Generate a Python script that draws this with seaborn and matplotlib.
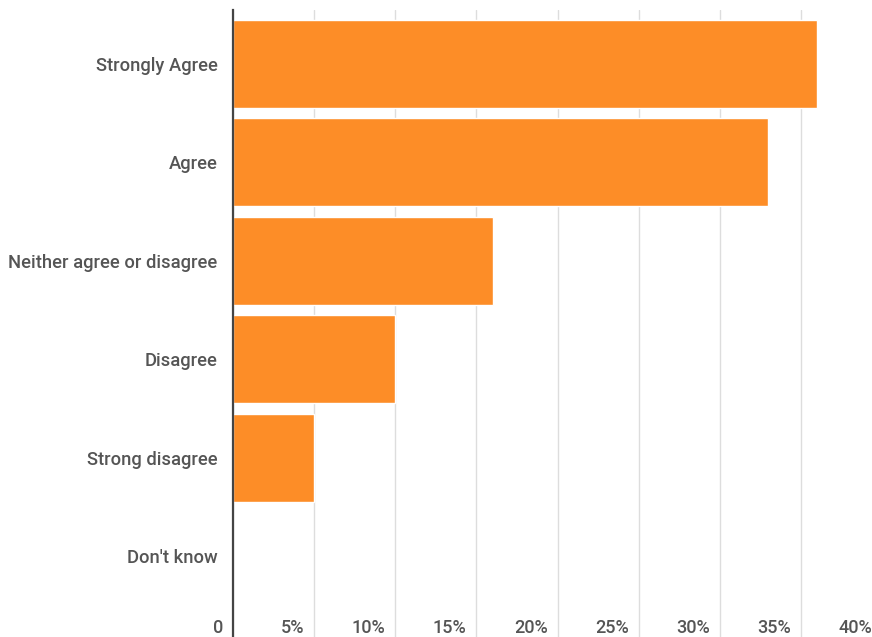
import matplotlib
matplotlib.use("Agg")
import matplotlib.pyplot as plt
import matplotlib.transforms as mtransforms
import seaborn as sns
import pandas as pd

categories = ["Strongly Agree", "Agree", "Neither agree or disagree", "Disagree", "Strong disagree", "Don't know"]
values = [36, 33, 16, 10, 5, 0]
xticks = [0, 5, 10, 15, 20, 25, 30, 35, 40]
xticklabels = ["0", "5%", "10%", "15%", "20%", "25%", "30%", "35%", "40%"]

df = pd.DataFrame({"category": categories, "value": values})

sns.set_theme(style="white")
plt.rcParams['font.family'] = ['Roboto', 'DejaVu Sans']

W, H = 872, 637
dpi = 100
fig = plt.figure(figsize=(W / dpi, H / dpi), dpi=dpi)
left, right, top, bottom = 233, 882, 10, 637
ax = fig.add_axes([left / W, 1 - bottom / H, (right - left) / W, (bottom - top) / H])

sns.barplot(data=df, x="value", y="category", orient="h", color="#fd8d27",
            saturation=1, width=0.895, ax=ax, zorder=3)

ax.set_xlim(0, 40)
ax.set_ylim(5.823, -0.549)
ax.set_xlabel("")
ax.set_ylabel("")
ax.set_xticks(xticks)
ax.set_xticklabels(xticklabels)
ax.grid(axis="x", color="#dddddd", linewidth=1, zorder=0)
ax.set_axisbelow(True)
for s in ["top", "right", "bottom"]:
    ax.spines[s].set_visible(False)
ax.spines["left"].set_color("#444444")
ax.spines["left"].set_linewidth(1.6)
ax.spines["left"].set_zorder(5)

ax.tick_params(axis="x", length=0, pad=-13, labelsize=13, labelcolor="#555555")
ax.tick_params(axis="y", length=0, pad=11, labelsize=13.2, labelcolor="#555555")
for lab in ax.get_xticklabels():
    lab.set_horizontalalignment("right")
    lab.set_fontweight("medium")
    lab.set_transform(lab.get_transform() + mtransforms.ScaledTranslation(-7 / 72, 0, fig.dpi_scale_trans))
for lab in ax.get_yticklabels():
    lab.set_fontweight("medium")

fig.savefig("out.png", dpi=dpi)
